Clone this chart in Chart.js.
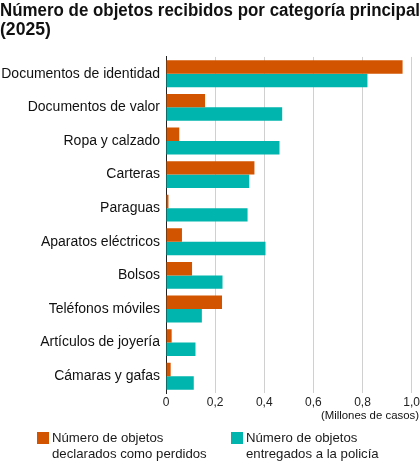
<!DOCTYPE html>
<html>
<head>
<meta charset="utf-8">
<script src="https://cdn.jsdelivr.net/npm/chart.js@4/dist/chart.umd.min.js"></script>
<style>
  html, body { margin: 0; padding: 0; background: #fff; }
  #wrap { position: relative; width: 420px; height: 465px; font-family: "Liberation Sans", Arial, Helvetica, sans-serif; }
  #c { position: absolute; left: 0; top: 0; }
  .leg { position: absolute; top: 430px; font-size: 13.2px; line-height: 15.5px; color: #1a1a1a; }
  .sw { position: absolute; left: 0; top: 2px; width: 12px; height: 12px; }
  .lt { position: absolute; left: 15px; top: 0; white-space: nowrap; }
  #unit { position: absolute; right: 1px; top: 408px; font-size: 11.4px; line-height: 14px; color: #111; white-space: nowrap; }
</style>
</head>
<body>
<div id="wrap">
  <canvas id="c" width="420" height="465"></canvas>
  <div id="unit"></div>
  <div class="leg" style="left:37px;"><div class="sw" id="sw0"></div><div class="lt" id="lt0"></div></div>
  <div class="leg" style="left:231px;"><div class="sw" id="sw1"></div><div class="lt" id="lt1"></div></div>
</div>
<script>
const titleLines = ["Número de objetos recibidos por categoría principal", "(2025)"];
const categories = ["Documentos de identidad", "Documentos de valor", "Ropa y calzado", "Carteras", "Paraguas", "Aparatos eléctricos", "Bolsos", "Teléfonos móviles", "Artículos de joyería", "Cámaras y gafas"];
const lostValues = [0.963, 0.159, 0.054, 0.360, 0.010, 0.065, 0.106, 0.228, 0.023, 0.019];
const handedValues = [0.820, 0.473, 0.462, 0.339, 0.332, 0.405, 0.230, 0.146, 0.120, 0.113];
const seriesNames = [["Número de objetos", "declarados como perdidos"], ["Número de objetos", "entregados a la policía"]];
const seriesColors = ["#D35400", "#00B5AD"];
const xTicks = [0, 0.2, 0.4, 0.6, 0.8, 1.0];
const xTickLabels = ["0", "0,2", "0,4", "0,6", "0,8", "1,0"];
const unitLabel = "(Millones de casos)";

// HTML legend and unit label
[0, 1].forEach(i => {
  document.getElementById("sw" + i).style.background = seriesColors[i];
  document.getElementById("lt" + i).innerHTML = seriesNames[i].join("<br>");
});
document.getElementById("unit").textContent = unitLabel;

const FONT = "'Liberation Sans', Arial, Helvetica, sans-serif";

new Chart(document.getElementById("c"), {
  type: "bar",
  data: {
    labels: categories,
    datasets: [
      { label: seriesNames[0].join(" "), data: lostValues, backgroundColor: seriesColors[0], categoryPercentage: 0.8, barPercentage: 1.0 },
      { label: seriesNames[1].join(" "), data: handedValues, backgroundColor: seriesColors[1], categoryPercentage: 0.8, barPercentage: 1.0 }
    ]
  },
  options: {
    indexAxis: "y",
    responsive: false,
    animation: false,
    devicePixelRatio: 1,
    layout: { padding: { left: 0, right: 0, top: 2, bottom: 56 } },
    plugins: {
      legend: { display: false },
      tooltip: { enabled: false },
      title: {
        display: true,
        text: titleLines,
        align: "start",
        color: "#111",
        font: { family: FONT, size: 17.6, weight: "bold", lineHeight: 1.05 },
        padding: { top: 0, bottom: 18 }
      }
    },
    scales: {
      x: {
        min: 0, max: 1.0,
        afterBuildTicks: (s) => { s.ticks = xTicks.map(v => ({ value: v })); },
        ticks: {
          color: "#222",
          font: { family: FONT, size: 12, lineHeight: 1.0 },
          padding: 0,
          maxRotation: 0,
          callback: (v) => { const i = xTicks.findIndex(t => Math.abs(t - v) < 1e-9); return i >= 0 ? xTickLabels[i] : ""; }
        },
        grid: { color: "#d0d0d0", lineWidth: 1, drawTicks: true, tickLength: 4, tickColor: "rgba(0,0,0,0)" },
        border: { display: false }
      },
      y: {
        afterFit: (s) => { s.width = 166; },
        ticks: { color: "#111", font: { family: FONT, size: 14 }, padding: 6 },
        grid: { display: false, drawTicks: false },
        border: { display: true, color: "#222", width: 1 }
      }
    }
  }
});
</script>
</body>
</html>
